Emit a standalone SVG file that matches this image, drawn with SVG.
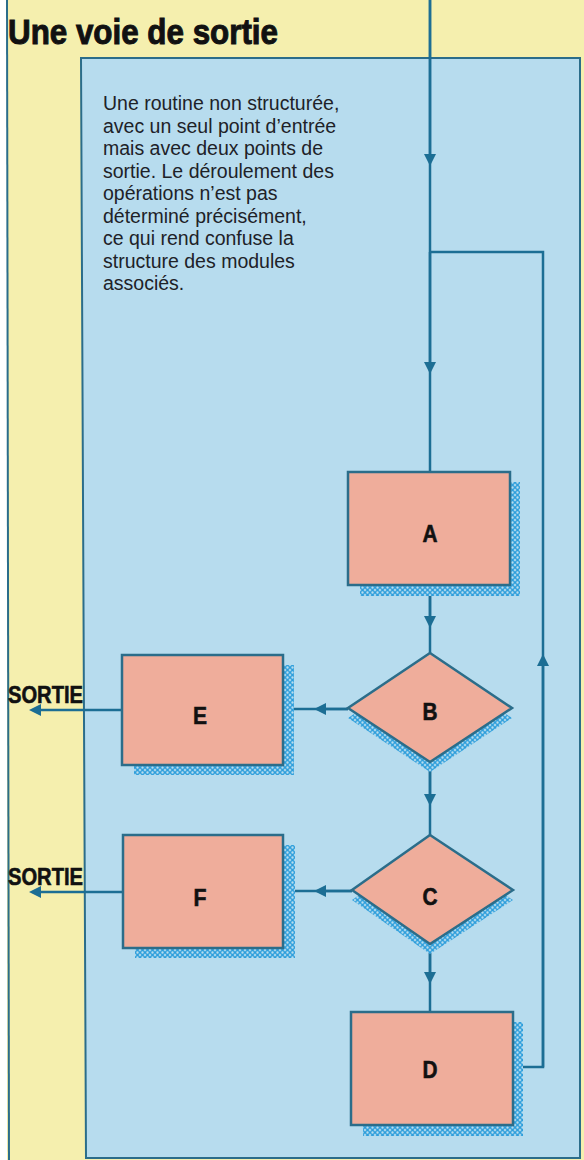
<svg xmlns="http://www.w3.org/2000/svg" width="584" height="1160" viewBox="0 0 584 1160">
<style>
.ln{stroke:#1c6e94;stroke-width:2.5;fill:none}
.box{fill:#efad9b;stroke:#2b6d8a;stroke-width:2.5}
.sh{fill:url(#hatch)}
.lbl{font-family:"Liberation Sans",Arial,sans-serif;font-weight:bold;font-size:24px;fill:#111;stroke:#111;stroke-width:0.6;text-anchor:middle}
.txt{font-family:"Liberation Sans",Arial,sans-serif;font-size:19.5px;fill:#1e2228}
.so{font-family:"Liberation Sans",Arial,sans-serif;font-weight:bold;font-size:24px;fill:#111;stroke:#111;stroke-width:0.6}
</style>
<defs>
<pattern id="hatch" width="5" height="5" patternUnits="userSpaceOnUse">
<rect width="5" height="5" fill="#b7dcee"/>
<circle cx="2.5" cy="2.5" r="1.9" fill="none" stroke="#2f9fdc" stroke-width="1.4"/>
</pattern>
<marker id="ar" viewBox="0 0 10 10" refX="5" refY="5" markerWidth="12" markerHeight="12" markerUnits="userSpaceOnUse" orient="auto">
<path d="M0,0 L10,5 L0,10 z" fill="#1c6e94"/>
</marker>
</defs>
<rect width="584" height="1160" fill="#f5efae"/>
<rect width="7" height="1160" fill="#ffffff"/>
<line x1="7" y1="0" x2="9" y2="1160" stroke="#2b6d8a" stroke-width="2"/>
<polygon points="81,58 580,58 580,1158 86,1158" fill="#b7dcee" stroke="#2b6d8a" stroke-width="2"/>
<text x="8" y="44" font-family="Liberation Sans,Arial,sans-serif" font-weight="bold" font-size="35" fill="#111" stroke="#111" stroke-width="1" textLength="270" lengthAdjust="spacingAndGlyphs">Une voie de sortie</text>
<g id="description" class="txt">
<text x="103" y="110">Une routine non structurée,</text>
<text x="103" y="132.5">avec un seul point d’entrée</text>
<text x="103" y="155">mais avec deux points de</text>
<text x="103" y="177.5">sortie. Le déroulement des</text>
<text x="103" y="200">opérations n’est pas</text>
<text x="103" y="222.5">déterminé précisément,</text>
<text x="103" y="245">ce qui rend confuse la</text>
<text x="103" y="267.5">structure des modules</text>
<text x="103" y="290">associés.</text>
</g>
<g id="connectors">
<path class="ln" d="M430,0 V472"/>
<path class="ln" d="M430,0 V160" marker-end="url(#ar)"/>
<path class="ln" d="M430,252 V368" marker-end="url(#ar)"/>
<path class="ln" d="M430,252 H543 V1067 H513"/>
<path class="ln" d="M543,1067 V660" marker-end="url(#ar)"/>
<path class="ln" d="M430,585 V653"/>
<path class="ln" d="M430,585 V622" marker-end="url(#ar)"/>
<path class="ln" d="M430,762 V835"/>
<path class="ln" d="M430,762 V800" marker-end="url(#ar)"/>
<path class="ln" d="M430,944 V1012"/>
<path class="ln" d="M430,944 V978" marker-end="url(#ar)"/>
<path class="ln" d="M348,709 H283"/>
<path class="ln" d="M348,709 H320" marker-end="url(#ar)"/>
<path class="ln" d="M122,710 H35" marker-end="url(#ar)"/>
<path class="ln" d="M352,891 H283"/>
<path class="ln" d="M352,891 H320" marker-end="url(#ar)"/>
<path class="ln" d="M123,892 H35" marker-end="url(#ar)"/>
</g>
<g id="sortie1"><text class="so" x="8" y="703" textLength="75" lengthAdjust="spacingAndGlyphs">SORTIE</text></g>
<g id="sortie2"><text class="so" x="8" y="885" textLength="75" lengthAdjust="spacingAndGlyphs">SORTIE</text></g>
<g id="nodeA">
<rect class="sh" x="360" y="482" width="160" height="114"/>
<rect class="box" x="348" y="472" width="162" height="113"/>
<text class="lbl" x="430" y="542" textLength="15" lengthAdjust="spacingAndGlyphs">A</text>
</g>
<g id="nodeB">
<polygon class="sh" points="430,663 512,718 430,772 348,718"/>
<polygon class="box" points="430,653 512,708 430,762 348,708"/>
<text class="lbl" x="430" y="720" textLength="15" lengthAdjust="spacingAndGlyphs">B</text>
</g>
<g id="nodeC">
<polygon class="sh" points="430,845 513,900 430,954 352,900"/>
<polygon class="box" points="430,835 513,890 430,944 352,890"/>
<text class="lbl" x="430" y="905" textLength="15" lengthAdjust="spacingAndGlyphs">C</text>
</g>
<g id="nodeD">
<rect class="sh" x="363" y="1022" width="160" height="114"/>
<rect class="box" x="351" y="1012" width="162" height="113"/>
<text class="lbl" x="430" y="1078" textLength="15" lengthAdjust="spacingAndGlyphs">D</text>
</g>
<g id="nodeE">
<rect class="sh" x="134" y="665" width="160" height="110"/>
<rect class="box" x="122" y="655" width="161" height="110"/>
<text class="lbl" x="200" y="724" textLength="14" lengthAdjust="spacingAndGlyphs">E</text>
</g>
<g id="nodeF">
<rect class="sh" x="135" y="845" width="160" height="113"/>
<rect class="box" x="123" y="835" width="160" height="113"/>
<text class="lbl" x="200" y="906" textLength="13" lengthAdjust="spacingAndGlyphs">F</text>
</g>
</svg>
